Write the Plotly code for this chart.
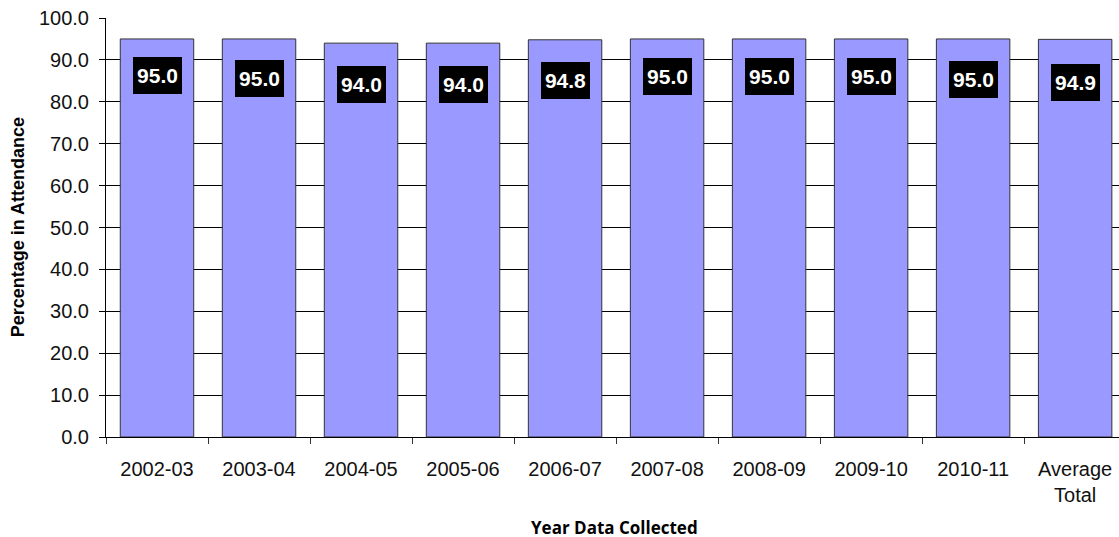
import plotly.graph_objects as go

categories = ["2002-03", "2003-04", "2004-05", "2005-06", "2006-07",
              "2007-08", "2008-09", "2009-10", "2010-11", "Average<br>Total"]
attendance = [95.0, 95.0, 94.0, 94.0, 94.8, 95.0, 95.0, 95.0, 95.0, 94.9]
y_ticks = [0, 10, 20, 30, 40, 50, 60, 70, 80, 90, 100]

# pixel offsets of the value boxes below the bar tops (style only)
label_drop = [37, 40, 41, 41, 41, 38, 38, 38, 41, 43]

fig = go.Figure()
fig.add_trace(go.Bar(
    x=categories, y=attendance,
    marker=dict(color="#9999FF", line=dict(color="#333333", width=1)),
    width=0.72,
    hoverinfo="x+y",
))

for c, v, d in zip(categories, attendance, label_drop):
    fig.add_annotation(
        x=c, y=v, xref="x", yref="y", yshift=-d,
        text="<b>%.1f</b>" % v, showarrow=False,
        font=dict(family="Liberation Sans, Arial", size=21, color="white"),
        bgcolor="black", borderpad=2, borderwidth=1, bordercolor="black",
        width=43, height=31, align="center", valign="middle",
        xanchor="center", yanchor="middle",
    )

fig.add_annotation(
    text="<b>Percentage in Attendance</b>", textangle=-90,
    xref="paper", yref="paper", x=-0.087, y=0.5,
    xanchor="center", yanchor="middle", showarrow=False,
    font=dict(family="Liberation Sans, Arial", size=18, color="black"),
)
fig.add_annotation(
    text="<b>Year Data Collected</b>",
    xref="paper", yref="paper", x=0.5015, y=-0.216,
    xanchor="center", yanchor="middle", showarrow=False,
    font=dict(family="Open Sans, Liberation Sans", size=17, color="black"),
)

fig.update_layout(
    width=1119, height=537,
    margin=dict(l=106, r=0, t=18, b=100, autoexpand=False),
    plot_bgcolor="white", paper_bgcolor="white",
    showlegend=False,
    bargap=0.28,
    font=dict(family="Liberation Sans, Arial", color="black"),
)
fig.update_yaxes(
    range=[0, 100], tickmode="array", tickvals=y_ticks, tickformat=".1f",
    showgrid=True, gridcolor="black", gridwidth=1,
    showline=True, linecolor="black", linewidth=1,
    ticks="outside", ticklen=6, tickcolor="black",
    tickfont=dict(size=20, color="#111111"),
    ticklabelstandoff=6,
    zeroline=False, automargin=False,
)
fig.update_xaxes(
    type="category",
    categoryorder="array", categoryarray=categories,
    range=[-0.5, 9.43],
    showline=True, linecolor="black", linewidth=1,
    ticks="outside", ticklen=6, tickcolor="#333333", tickson="boundaries",
    tickfont=dict(size=20, color="#111111"),
    ticklabelstandoff=14,
    tickangle=0,
    showgrid=False, automargin=False,
)

fig.write_html(
    "out.html",
    config={"displayModeBar": False},
    post_script="document.body.style.margin='0px';"
                "document.body.style.padding='0px';"
                "document.body.style.overflow='hidden';",
)
